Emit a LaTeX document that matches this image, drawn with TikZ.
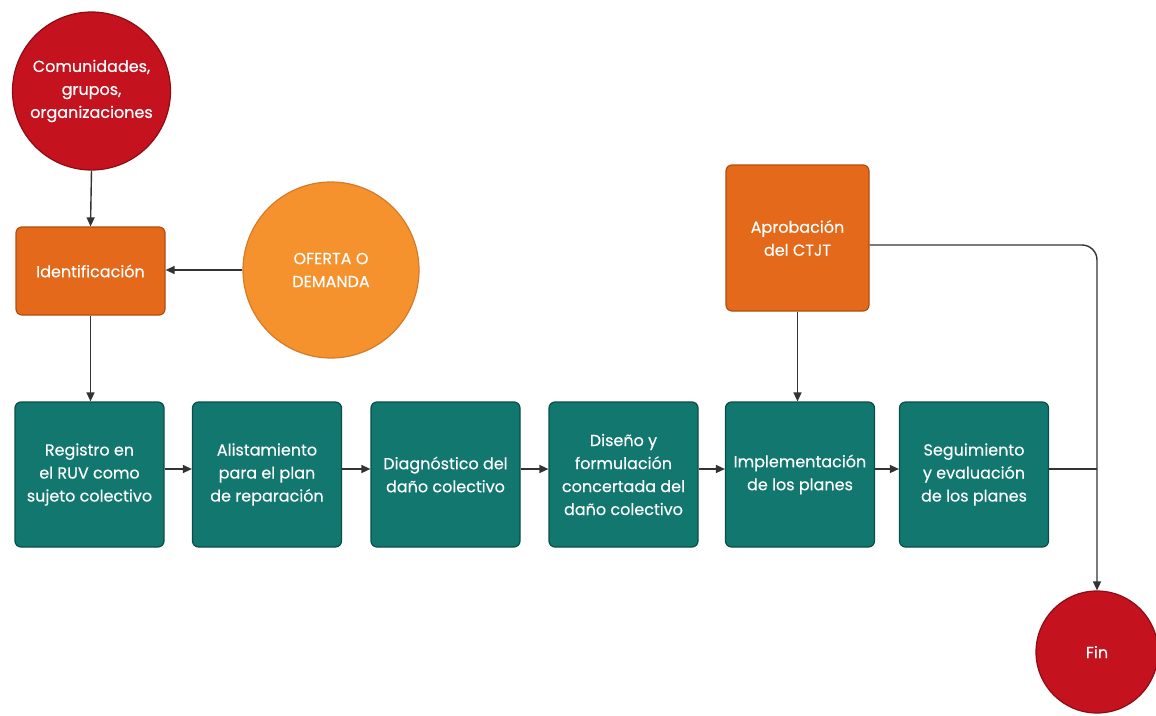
\documentclass[tikz,border=0pt]{standalone}
\usepackage{fontspec}
\setmainfont{Poppins}[FakeBold=0.35]
\usetikzlibrary{arrows.meta}
\definecolor{tealf}{HTML}{11776F}
\definecolor{teald}{HTML}{0A4F4A}
\definecolor{orf}{HTML}{E5691B}
\definecolor{ord}{HTML}{B04E10}
\definecolor{lof}{HTML}{F6922E}
\definecolor{lod}{HTML}{D67A28}
\definecolor{redf}{HTML}{C5121F}
\definecolor{redd}{HTML}{8E0B14}
\definecolor{linec}{HTML}{333333}
\tikzset{
  txt/.style={text=white, align=center, font=\fontsize{16}{23}\selectfont},
  tealbox/.style={txt, rectangle, rounded corners=6pt, fill=tealf, draw=teald, line width=1.2pt,
    minimum width=149pt, minimum height=145pt, inner sep=0pt},
  orbox/.style={txt, rectangle, rounded corners=6pt, fill=orf, draw=ord, line width=1.2pt, inner sep=0pt},
  redcirc/.style={txt, circle, fill=redf, draw=redd, line width=1.2pt, inner sep=0pt},
  locirc/.style={txt, circle, fill=lof, draw=lod, line width=1.2pt, inner sep=0pt},
  conn/.style={draw=linec, line width=1.4pt},
  arr/.style={conn, -{Triangle[length=9pt, width=8pt]}},
}
\begin{document}
\begin{tikzpicture}[x=1pt, y=-1pt]
\useasboundingbox (0,0) rectangle (1156,715);
\fill[white] (0,0) rectangle (1156,715);

\node[redcirc, minimum size=158pt] (com) at (91.5,91) {Comunidades,\\grupos,\\organizaciones};
\node[orbox, minimum width=149pt, minimum height=88pt] (id) at (90.5,271) {Identificación};
\node[locirc, minimum size=176pt] (of) at (331,270) {OFERTA O\\DEMANDA};
\node[orbox, minimum width=143pt, minimum height=146pt] (ap) at (797.5,238) {Aprobación\\del CTJT};

\node[tealbox] (b1) at (89.5,474.5) {Registro en\\el RUV como\\sujeto colectivo};
\node[tealbox] (b2) at (267,474.5) {Alistamiento\\para el plan\\de reparación};
\node[tealbox] (b3) at (445.5,474.5) {Diagnóstico del\\daño colectivo};
\node[tealbox] (b4) at (623.5,474.5) {Diseño y\\formulación\\concertada del\\daño colectivo};
\node[tealbox] (b5) at (800,474.5) {Implementación\\de los planes};
\node[tealbox] (b6) at (974,474.5) {Seguimiento\\y evaluación\\de los planes};

\node[redcirc, minimum size=122pt] (fin) at (1097,652) {Fin};

\draw[arr] (com.south) -- (id.north);
\draw[arr] (of.west) -- (of.west -| id.east);
\draw[arr] (id.south) -- (id.south |- b1.north);
\draw[arr] ([yshift=5.5pt]b1.east) -- ([yshift=5.5pt]b2.west);
\draw[arr] ([yshift=5.5pt]b2.east) -- ([yshift=5.5pt]b3.west);
\draw[arr] ([yshift=5.5pt]b3.east) -- ([yshift=5.5pt]b4.west);
\draw[arr] ([yshift=5.5pt]b4.east) -- ([yshift=5.5pt]b5.west);
\draw[arr] ([yshift=5.5pt]b5.east) -- ([yshift=5.5pt]b6.west);
\draw[arr] (ap.south) -- (ap.south |- b5.north);
\draw[arr, rounded corners=15pt] ([yshift=-7pt]ap.east) -| (fin.north);
\coordinate (join) at ([yshift=5.5pt]b6.east -| fin.north);
\draw[conn] ([yshift=5.5pt]b6.east) -- (join);
\end{tikzpicture}
\end{document}
